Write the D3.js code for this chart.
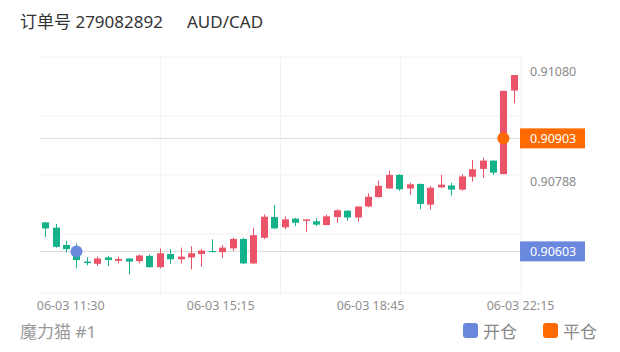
<!DOCTYPE html>
<html>
<head>
<meta charset="utf-8">
<script src="https://cdn.jsdelivr.net/npm/d3@7"></script>
<style>
  body { margin: 0; background: #fff; }
  svg { display: block; font-family: "Noto Sans", "Noto Sans CJK SC", sans-serif; }
</style>
</head>
<body>
<svg id="chart" width="620" height="352"></svg>
<script>
// candle values (red = up, green = down)
const opens  = [0.90680, 0.90666, 0.90620, 0.90607, 0.90576, 0.90570, 0.90587, 0.90578, 0.90584, 0.90577,
                0.90591, 0.90561, 0.90596, 0.90582, 0.90587, 0.90596, 0.90604, 0.90601, 0.90611, 0.90636,
                0.90571, 0.90639, 0.90694, 0.90667, 0.90690, 0.90684, 0.90683, 0.90673, 0.90694, 0.90711,
                0.90693, 0.90722, 0.90747, 0.90770, 0.90806, 0.90770, 0.90782, 0.90727, 0.90773, 0.90778,
                0.90767, 0.90801, 0.90822, 0.90844, 0.90808, 0.91030]
const closes = [0.90664, 0.90615, 0.90609, 0.90580, 0.90572, 0.90584, 0.90580, 0.90583, 0.90576, 0.90592,
                0.90561, 0.90598, 0.90582, 0.90589, 0.90598, 0.90605, 0.90601, 0.90613, 0.90636, 0.90571,
                0.90646, 0.90695, 0.90664, 0.90688, 0.90679, 0.90688, 0.90674, 0.90696, 0.90712, 0.90693,
                0.90722, 0.90748, 0.90777, 0.90806, 0.90768, 0.90781, 0.90729, 0.90772, 0.90780, 0.90767,
                0.90802, 0.90821, 0.90844, 0.90812, 0.91029, 0.91071]
const highs  = [0.90680, 0.90676, 0.90631, 0.90624, 0.90587, 0.90589, 0.90591, 0.90589, 0.90585, 0.90595,
                0.90595, 0.90611, 0.90609, 0.90613, 0.90617, 0.90609, 0.90635, 0.90620, 0.90639, 0.90639,
                0.90666, 0.90701, 0.90726, 0.90696, 0.90692, 0.90688, 0.90691, 0.90700, 0.90715, 0.90712,
                0.90723, 0.90757, 0.90791, 0.90817, 0.90808, 0.90785, 0.90783, 0.90777, 0.90806, 0.90785,
                0.90808, 0.90846, 0.90852, 0.90844, 0.91029, 0.91071]
const lows   = [0.90641, 0.90613, 0.90600, 0.90558, 0.90566, 0.90564, 0.90564, 0.90571, 0.90542, 0.90571,
                0.90560, 0.90558, 0.90570, 0.90571, 0.90555, 0.90562, 0.90600, 0.90585, 0.90604, 0.90569,
                0.90569, 0.90636, 0.90662, 0.90662, 0.90670, 0.90655, 0.90670, 0.90672, 0.90679, 0.90684,
                0.90682, 0.90720, 0.90746, 0.90769, 0.90764, 0.90753, 0.90715, 0.90714, 0.90771, 0.90751,
                0.90764, 0.90788, 0.90798, 0.90806, 0.90808, 0.90996]

const xTickIdx = [2.4, 16.8, 31.2, 45.6]
const xTickLabels = ['06-03 11:30', '06-03 15:15', '06-03 18:45', '06-03 22:15']
const yTickValues = [0.91080, 0.90788]

// trade marks: index of candle + price
const openTrade  = { i: 3,  price: 0.90603 }
const closeTrade = { i: 44, price: 0.90903 }

const up = '#eb5468', down = '#14b28a'
const blue = '#6b88df', orange = '#ff6a00'

const plot = { left: 40, right: 521, top: 57, bottom: 293 }

const svg = d3.select('#chart')

const candles = opens.map((o, i) => ({ i, o, c: closes[i], h: highs[i], l: lows[i] }))

const x = d3.scaleLinear()
    .domain([-0.5, candles.length - 0.5])
    .range([plot.left, 519])

const y = d3.scaleLinear()
    .domain([0.904925, 0.91119])
    .range([plot.bottom, plot.top])

// grid
const grid = svg.append('g').attr('class', 'grid')
d3.range(5).forEach(k => {
  const gy = plot.top + k * (plot.bottom - plot.top) / 4
  grid.append('line')
    .attr('x1', plot.left).attr('x2', plot.right)
    .attr('y1', gy).attr('y2', gy)
    .attr('stroke', '#f1f1f1')
})
d3.range(1, 5).forEach(k => {
  const gx = plot.left + k * (plot.right - plot.left) / 4
  grid.append('line')
    .attr('x1', gx).attr('x2', gx)
    .attr('y1', plot.top - 2).attr('y2', plot.bottom + 2)
    .attr('stroke', '#f1f1f1')
})

// price lines for open / close
;[openTrade, closeTrade].forEach(t => {
  svg.append('line')
    .attr('x1', plot.left).attr('x2', plot.right)
    .attr('y1', y(t.price)).attr('y2', y(t.price))
    .attr('stroke', '#d9d9d9')
})

// candles
const bw = 7
const cg = svg.append('g').attr('class', 'candles')
const cs = cg.selectAll('g')
  .data(candles)
  .enter()
  .append('g')

cs.append('line')
    .attr('x1', d => Math.round(x(d.i)) + 0.5)
    .attr('x2', d => Math.round(x(d.i)) + 0.5)
    .attr('y1', d => y(d.h))
    .attr('y2', d => y(d.l))
    .attr('stroke', d => d.c >= d.o ? up : down)
    .attr('stroke-width', 1)

cs.append('rect')
    .attr('x', d => Math.round(x(d.i)) + 0.5 - bw / 2)
    .attr('width', bw)
    .attr('y', d => y(Math.max(d.o, d.c)))
    .attr('height', d => Math.max(1, Math.abs(y(d.o) - y(d.c))))
    .attr('fill', d => d.c >= d.o ? up : down)

// trade markers
svg.append('circle')
    .attr('cx', x(openTrade.i)).attr('cy', y(openTrade.price))
    .attr('r', 6).attr('fill', blue)
svg.append('circle')
    .attr('cx', x(closeTrade.i)).attr('cy', y(closeTrade.price))
    .attr('r', 6).attr('fill', orange)

// right axis
const yAxis = svg.append('g')
    .attr('transform', `translate(${plot.right + 3}, 0)`)
    .call(d3.axisRight(y).tickValues(yTickValues).tickFormat(d3.format('.5f')).tickSize(0).tickPadding(6))
yAxis.select('.domain').remove()
yAxis.selectAll('text')
    .attr('fill', '#8a8a8a')
    .style('font-size', '12.5px')
    .style('font-family', '"Noto Sans", sans-serif')

// price tags
;[[openTrade, blue], [closeTrade, orange]].forEach(([t, col]) => {
  const ty = y(t.price)
  svg.append('rect')
    .attr('x', plot.right - 1).attr('y', ty - 10)
    .attr('width', 65).attr('height', 20)
    .attr('fill', col)
  svg.append('text')
    .attr('x', plot.right + 9).attr('y', ty)
    .attr('dy', '0.35em')
    .attr('fill', '#fff')
    .style('font-size', '12.5px')
    .text(d3.format('.5f')(t.price))
})

// bottom axis
const xAxis = svg.append('g')
    .attr('transform', `translate(0, ${plot.bottom})`)
    .call(d3.axisBottom(x).tickValues(xTickIdx).tickFormat((d, i) => xTickLabels[i]).tickSize(0).tickPadding(8))
xAxis.select('.domain').remove()
xAxis.selectAll('text')
    .attr('fill', '#8f8f8f')
    .style('font-size', '12.5px')
    .style('font-family', '"Noto Sans", sans-serif')

// header
svg.append('text')
    .attr('x', 20).attr('y', 28)
    .attr('fill', '#333')
    .style('font-size', '17px')
    .text('订单号 279082892')
svg.append('text')
    .attr('x', 187).attr('y', 28)
    .attr('fill', '#333')
    .style('font-size', '17px')
    .text('AUD/CAD')

// footer
svg.append('text')
    .attr('x', 20).attr('y', 338)
    .attr('fill', '#999')
    .style('font-size', '17px')
    .text('魔力猫 #1')

const legend = [['开仓', blue, 463], ['平仓', orange, 543]]
legend.forEach(([name, col, lx]) => {
  svg.append('rect')
    .attr('x', lx).attr('y', 323)
    .attr('width', 15).attr('height', 15).attr('rx', 3)
    .attr('fill', col)
  svg.append('text')
    .attr('x', lx + 20).attr('y', 338)
    .attr('fill', '#888')
    .style('font-size', '17px')
    .text(name)
})
</script>
</body>
</html>
